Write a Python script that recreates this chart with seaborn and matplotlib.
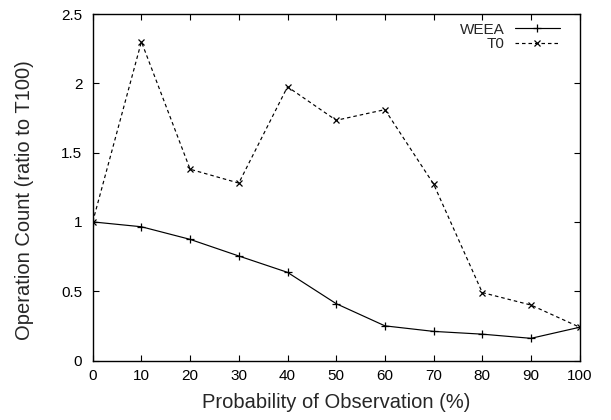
import matplotlib
matplotlib.use('Agg')
import matplotlib.pyplot as plt
import seaborn as sb
import pandas

# probability of observation (%)
probs = [0, 10, 20, 30, 40, 50, 60, 70, 80, 90, 100]
weea = [1.0, 0.965, 0.874, 0.754, 0.636, 0.41, 0.25, 0.21, 0.19, 0.16, 0.24]
t0 = [1.0, 2.30, 1.38, 1.28, 1.975, 1.733, 1.81, 1.273, 0.49, 0.40, 0.24]

x_ticks = probs
y_ticks = [0, 0.5, 1, 1.5, 2, 2.5]
y_labels = ['0', '0.5', '1', '1.5', '2', '2.5']

df = pandas.DataFrame({'prob': probs * 2,
                       'value': weea + t0,
                       'series': ['WEEA'] * len(probs) + ['T0'] * len(probs)})

sb.set_style("ticks")
plt.rcParams['font.family'] = ['Liberation Sans', 'DejaVu Sans']
plt.rcParams['font.size'] = 11

fig = plt.figure(figsize=(6.11, 4.2), dpi=100)
# axes box: x 92.7..579.7 px, y 14..360.5 px
ax = fig.add_axes([92.7 / 611, (420 - 360.5) / 420, 487 / 611, 346.5 / 420])

styles = {'WEEA': ('-', '+', 5.5), 'T0': ((0, (3, 2.5)), 'x', 4.5)}
for name in ['WEEA', 'T0']:
    data = df[df['series'] == name]
    ls, mk, ms = styles[name]
    sb.lineplot(x='prob', y='value', data=data, ax=ax, color='black',
                linestyle=ls, linewidth=0.85, marker=mk, markersize=ms,
                markeredgewidth=0.9, markeredgecolor='black', label=name)

ax.set_xlim(0, 100)
ax.set_ylim(0, 2.5)
ax.set_xticks(x_ticks)
ax.set_yticks(y_ticks)
ax.set_yticklabels(y_labels)
ax.tick_params(direction='in', top=True, right=True, length=4, width=0.8,
               labelsize=11, colors='black')
ax.tick_params(axis='x', pad=6)
ax.tick_params(axis='y', pad=7.5)
for s in ax.spines.values():
    s.set_visible(True)
    s.set_linewidth(1.0)
    s.set_color('black')

ax.set_xlabel('Probability of Observation (%)', fontsize=14.5, labelpad=7)
ax.set_ylabel('Operation Count (ratio to T100)', fontsize=14.5)
# gnuplot puts the y label a little below the axes centre
ax.yaxis.set_label_coords(-0.121, 0.463)

leg = ax.legend(loc='upper right', bbox_to_anchor=(0.9596, 0.975),
                frameon=False, markerfirst=False, fontsize=11,
                handlelength=2.95, handletextpad=0.7, labelspacing=0.05,
                borderpad=0, borderaxespad=0)
for t in leg.get_texts():
    t.set_ha('right')

fig.savefig('out.png', dpi=100)
